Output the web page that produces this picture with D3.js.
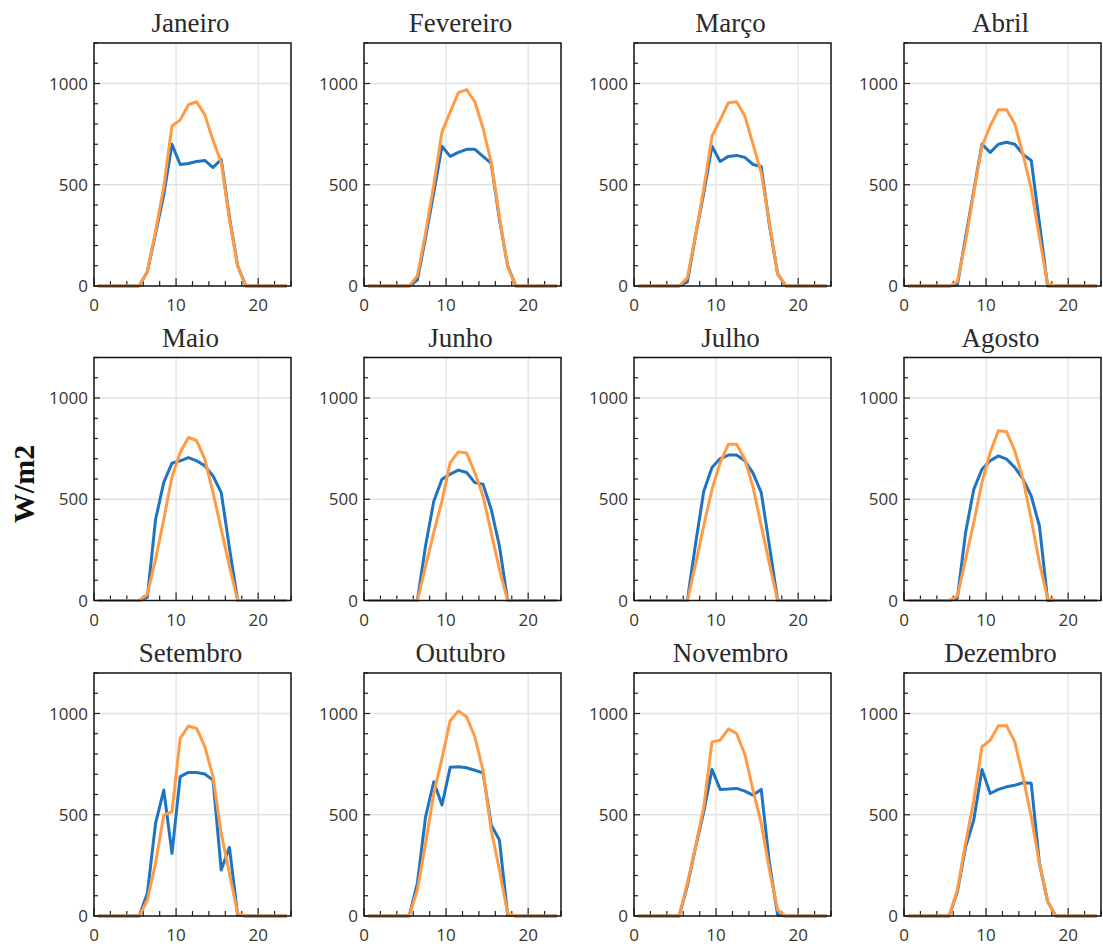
<!DOCTYPE html>
<html><head><meta charset="utf-8">
<script src="https://cdn.jsdelivr.net/npm/d3@7/dist/d3.min.js"></script>
<style>body{margin:0;background:#fff}</style>
</head><body>
<svg id="c" width="1103" height="946"></svg>
<script>
const months = ["Janeiro","Fevereiro","Março","Abril","Maio","Junho","Julho","Agosto","Setembro","Outubro","Novembro","Dezembro"];
const hours = [0.5,1.5,2.5,3.5,4.5,5.5,6.5,7.5,8.5,9.5,10.5,11.5,12.5,13.5,14.5,15.5,16.5,17.5,18.5,19.5,20.5,21.5,22.5,23.5];
const yTicks = [0,500,1000];
const xTicks = [0,10,20];
const yLabel = "W/m2";
// blue series (measured)
const measured = [
 [0,0,0,0,0,0,70,260,450,700,600,605,615,620,585,625,340,100,0,0,0,0,0,0],
 [0,0,0,0,0,0,30,240,460,690,640,660,675,675,640,605,330,100,0,0,0,0,0,0],
 [0,0,0,0,0,0,20,250,460,690,615,640,645,635,600,590,300,60,0,0,0,0,0,0],
 [0,0,0,0,0,0,5,240,470,700,660,700,710,700,650,620,310,0,0,0,0,0,0,0],
 [0,0,0,0,0,0,15,400,583,678,690,706,690,665,615,533,260,0,0,0,0,0,0,0],
 [0,0,0,0,0,0,0,270,490,599,624,644,632,582,574,450,269,0,0,0,0,0,0,0],
 [0,0,0,0,0,0,0,280,540,657,701,718,718,690,629,533,270,0,0,0,0,0,0,0],
 [0,0,0,0,0,0,10,335,549,648,690,714,698,657,599,516,368,0,0,0,0,0,0,0],
 [0,0,0,0,0,0,112,457,622,309,688,709,709,701,671,227,339,5,0,0,0,0,0,0],
 [0,0,0,0,0,0,161,490,663,548,734,737,732,720,707,449,375,5,0,0,0,0,0,0],
 [0,0,0,0,0,0,150,340,515,724,625,627,630,617,597,625,260,5,0,0,0,0,0,0],
 [0,0,0,0,0,0,120,340,474,724,605,625,638,646,658,655,260,71,0,0,0,0,0,0]
];
// orange series (clear sky / model)
const clearSky = [
 [0,0,0,0,0,0,70,270,490,790,820,895,910,845,720,610,330,100,0,0,0,0,0,0],
 [0,0,0,0,0,0,50,260,500,760,860,955,970,910,780,610,340,95,0,0,0,0,0,0],
 [0,0,0,0,0,0,40,250,480,740,820,905,910,840,700,560,310,60,0,0,0,0,0,0],
 [0,0,0,0,0,0,20,220,460,690,790,870,870,800,650,480,240,10,0,0,0,0,0,0],
 [0,0,0,0,0,0,30,203,401,610,731,805,790,698,533,351,170,0,0,0,0,0,0,0],
 [0,0,0,0,0,0,0,170,335,492,681,734,728,632,516,335,153,0,0,0,0,0,0,0],
 [0,0,0,0,0,0,0,180,370,549,681,772,772,698,560,370,180,0,0,0,0,0,0,0],
 [0,0,0,0,0,0,20,203,385,583,731,838,833,739,599,401,186,10,0,0,0,0,0,0],
 [0,0,0,0,0,0,79,260,498,515,877,938,926,836,688,408,210,13,0,0,0,0,0,0],
 [0,0,0,0,0,0,128,359,605,778,964,1013,984,885,720,424,227,13,0,0,0,0,0,0],
 [0,0,0,0,0,0,161,342,539,860,868,924,901,799,622,457,227,30,0,0,0,0,0,0],
 [0,0,0,0,0,0,128,359,572,836,868,939,939,860,688,490,260,71,0,0,0,0,0,0]
];

const colLeft = [94, 364, 634, 904];
const rowTop = [43, 357.5, 673];
const W = 197, H = 243;
const svg = d3.select("#c");
const blue = "#1f74c2", orange = "#ff9a45";
const tickFont = "'Open Sans', 'DejaVu Sans', sans-serif";

months.forEach((m, i) => {
  const c = i % 4, r = Math.floor(i / 4);
  const g = svg.append("g").attr("transform", `translate(${colLeft[c]},${rowTop[r]})`);
  const x = d3.scaleLinear().domain([0, 24]).range([0, W]);
  const y = d3.scaleLinear().domain([0, 1200]).range([H, 0]);

  // grid
  g.append("g").selectAll("line.gy").data([500, 1000]).join("line")
    .attr("x1", 0).attr("x2", W).attr("y1", d => y(d)).attr("y2", d => y(d))
    .attr("stroke", "#e2e2e2").attr("stroke-width", 1.3);
  g.append("g").selectAll("line.gx").data([10, 20]).join("line")
    .attr("y1", 0).attr("y2", H).attr("x1", d => x(d)).attr("x2", d => x(d))
    .attr("stroke", "#e2e2e2").attr("stroke-width", 1.3);

  // minor ticks
  g.append("g").selectAll("line").data(d3.range(0, 1201, 100)).join("line")
    .attr("x1", 0).attr("x2", d => d % 500 === 0 ? 6 : 4)
    .attr("y1", d => y(d)).attr("y2", d => y(d))
    .attr("stroke", "#222").attr("stroke-width", 1.2);
  g.append("g").selectAll("line").data(d3.range(0, 25, 2)).join("line")
    .attr("y1", H).attr("y2", d => H - (d % 10 === 0 ? 8 : 5))
    .attr("x1", d => x(d)).attr("x2", d => x(d))
    .attr("stroke", "#222").attr("stroke-width", 1.2);

  // tick labels
  g.append("g").selectAll("text").data(yTicks).join("text")
    .attr("x", -6).attr("y", d => y(d)).attr("dy", "0.36em")
    .attr("text-anchor", "end").attr("font-family", tickFont).attr("font-size", 17)
    .attr("fill", "#3b3426").text(d => d);
  g.append("g").selectAll("text").data(xTicks).join("text")
    .attr("x", d => x(d)).attr("y", H + 25)
    .attr("text-anchor", "middle").attr("font-family", tickFont).attr("font-size", 17)
    .attr("fill", "#3b3426").text(d => d);

  // lines
  const line = d3.line().x((d, k) => x(hours[k])).y(d => y(d));
  g.append("path").datum(measured[i]).attr("d", line)
    .attr("fill", "none").attr("stroke", blue).attr("stroke-width", 3).attr("stroke-linejoin", "round");
  g.append("path").datum(clearSky[i]).attr("d", line)
    .attr("fill", "none").attr("stroke", orange).attr("stroke-width", 3).attr("stroke-linejoin", "round");

  // frame
  g.append("rect").attr("width", W).attr("height", H)
    .attr("fill", "none").attr("stroke", "#111").attr("stroke-width", 1.5);

  // title
  g.append("text").attr("x", W / 2 - 2).attr("y", -11).attr("text-anchor", "middle")
    .attr("font-family", "'Liberation Serif', 'Times New Roman', serif").attr("font-size", 27)
    .attr("fill", "#2a2a2a").text(m);
});

svg.append("text").attr("transform", "translate(34,484) rotate(-90)")
  .attr("text-anchor", "middle").attr("font-family", "'Liberation Serif', 'Times New Roman', serif")
  .attr("font-weight", "bold").attr("font-size", 30).attr("fill", "#111").text(yLabel);
</script>
</body></html>
